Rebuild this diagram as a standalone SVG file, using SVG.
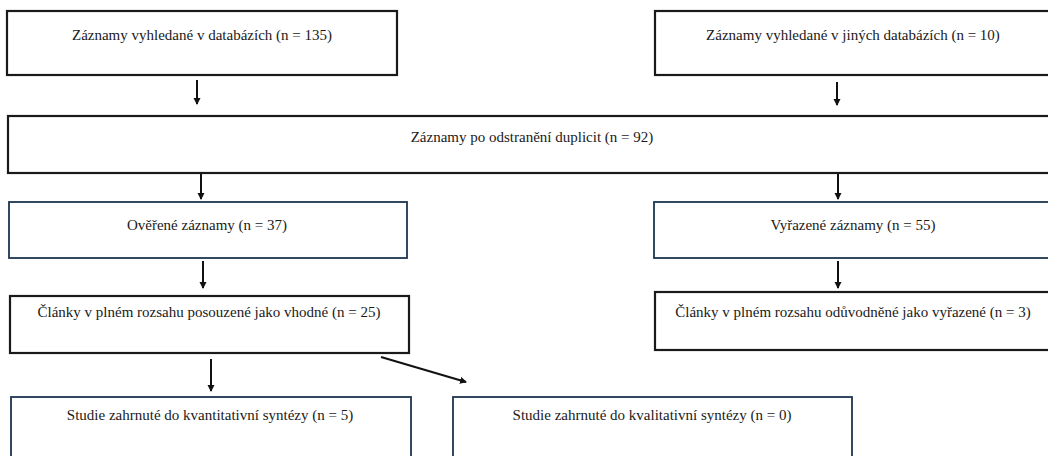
<svg xmlns="http://www.w3.org/2000/svg" width="1048" height="456" viewBox="0 0 1048 456">
<defs>
<marker id="ah" markerWidth="8" markerHeight="8" refX="6" refY="4" orient="auto" markerUnits="userSpaceOnUse" viewBox="0 0 8 8">
<path d="M0,0.5 L7,4 L0,7.5 Z" fill="#111"/>
</marker>
<style>
.bk{fill:#fff;stroke:#1a1a1a;stroke-width:2.2}
.bl{fill:#fff;stroke:#1d3650;stroke-width:1.8}
.t{font-family:"Liberation Serif","Times New Roman","DejaVu Serif",serif;font-size:15px;fill:#1a1a1a;text-anchor:middle}
.c{stroke:#111;stroke-width:2;fill:none;marker-end:url(#ah)}
</style>
</defs>
<rect width="1048" height="456" fill="#fff"/>
<g id="connectors">
<line class="c" x1="197" y1="80" x2="197" y2="104"/>
<line class="c" x1="837" y1="82" x2="837" y2="105"/>
<line class="c" x1="201" y1="173" x2="201" y2="199"/>
<line class="c" x1="838" y1="173" x2="838" y2="199"/>
<line class="c" x1="203" y1="261" x2="203" y2="288"/>
<line class="c" x1="838" y1="261" x2="838" y2="288"/>
<line class="c" x1="211" y1="359" x2="211" y2="391"/>
<line class="c" x1="381" y1="357" x2="466" y2="382"/>
</g>
<g id="n1"><rect class="bk" x="7" y="11" width="390" height="64"/><text class="t" font-family="Liberation Serif, serif" x="202" y="40">Záznamy vyhledané v databázích (n = 135)</text></g>
<g id="n2"><rect class="bk" x="655" y="11" width="400" height="64"/><text class="t" font-family="Liberation Serif, serif" x="853" y="40">Záznamy vyhledané v jiných databázích (n = 10)</text></g>
<g id="n3"><rect class="bk" x="8" y="116" width="1050" height="57"/><text class="t" font-family="Liberation Serif, serif" x="532" y="142">Záznamy po odstranění duplicit (n = 92)</text></g>
<g id="n4"><rect class="bl" x="9" y="202" width="398" height="56"/><text class="t" font-family="Liberation Serif, serif" x="207" y="230">Ověřené záznamy (n = 37)</text></g>
<g id="n5"><rect class="bl" x="654" y="202" width="400" height="56"/><text class="t" font-family="Liberation Serif, serif" x="853" y="230">Vyřazené záznamy (n = 55)</text></g>
<g id="n6"><rect class="bk" x="10" y="296" width="399" height="57"/><text class="t" font-family="Liberation Serif, serif" x="209" y="317">Články v plném rozsahu posouzené jako vhodné (n = 25)</text></g>
<g id="n7"><rect class="bk" x="655" y="292" width="400" height="58"/><text class="t" font-family="Liberation Serif, serif" x="853" y="317">Články v plném rozsahu odůvodněné jako vyřazené (n = 3)</text></g>
<g id="n8"><rect class="bl" x="11" y="397" width="400" height="70"/><text class="t" font-family="Liberation Serif, serif" x="210" y="420">Studie zahrnuté do kvantitativní syntézy (n = 5)</text></g>
<g id="n9"><rect class="bl" x="453" y="397" width="399" height="70"/><text class="t" font-family="Liberation Serif, serif" x="652" y="420">Studie zahrnuté do kvalitativní syntézy (n = 0)</text></g>
</svg>
